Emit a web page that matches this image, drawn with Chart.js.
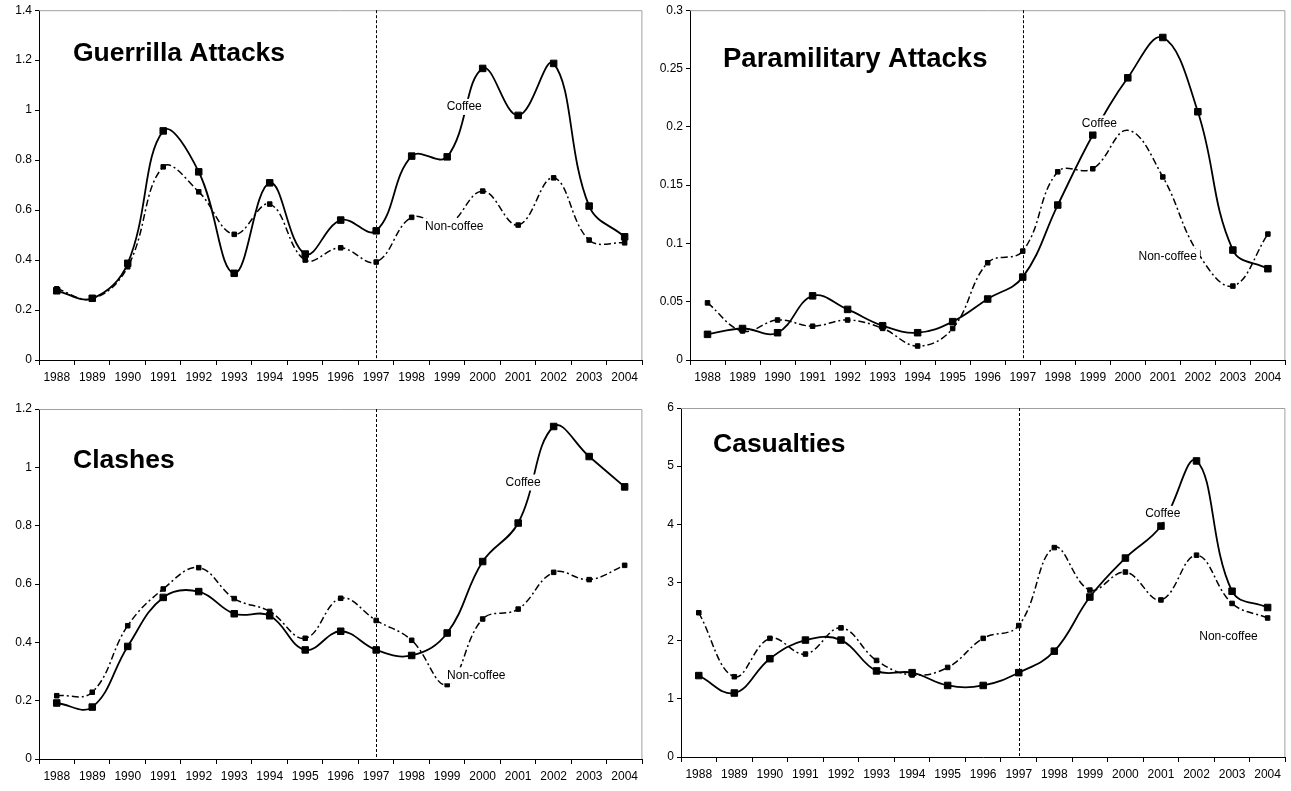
<!DOCTYPE html>
<html>
<head>
<meta charset="utf-8">
<script src="https://cdn.jsdelivr.net/npm/chart.js@4.4.1/dist/chart.umd.min.js"></script>
<style>
  body { margin: 0; background: #fff; width: 1291px; height: 791px; overflow: hidden; position: relative; }
  .panel { position: absolute; }
</style>
</head>
<body>
<div class="panel" style="left:0;top:0;width:648px;height:390px"><canvas id="c1"></canvas></div>
<div class="panel" style="left:650px;top:0;width:641px;height:390px"><canvas id="c2"></canvas></div>
<div class="panel" style="left:0;top:390px;width:648px;height:401px"><canvas id="c3"></canvas></div>
<div class="panel" style="left:650px;top:390px;width:641px;height:401px"><canvas id="c4"></canvas></div>
<script>
const years = ["1988", "1989", "1990", "1991", "1992", "1993", "1994", "1995", "1996",
  "1997", "1998", "1999", "2000", "2001", "2002", "2003", "2004"];

const guerrillaCoffee = [0.277, 0.247, 0.387, 0.917, 0.753, 0.347, 0.709, 0.424, 0.56,
  0.517, 0.816, 0.813, 1.167, 0.979, 1.187, 0.616, 0.493];
const guerrillaNonCoffee = [0.285, 0.245, 0.373, 0.773, 0.673, 0.503, 0.624, 0.40, 0.449,
  0.392, 0.571, 0.54, 0.676, 0.54, 0.729, 0.48, 0.469];
const guerrillaTicks = [0, 0.2, 0.4, 0.6, 0.8, 1, 1.2, 1.4];

const paraCoffee = [0.022, 0.027, 0.0234, 0.055, 0.0434, 0.0294, 0.0234, 0.0329, 0.0523,
  0.0711, 0.1329, 0.193, 0.242, 0.2766, 0.2129, 0.0943, 0.0783];
const paraNonCoffee = [0.049, 0.0249, 0.0343, 0.029, 0.0343, 0.0271, 0.012, 0.027, 0.0834,
  0.0934, 0.1614, 0.164, 0.197, 0.157, 0.092, 0.0634, 0.108];
const paraTicks = [0, 0.05, 0.1, 0.15, 0.2, 0.25, 0.3];

const clashCoffee = [0.192, 0.178, 0.386, 0.554, 0.574, 0.498, 0.491, 0.374, 0.438,
  0.374, 0.355, 0.432, 0.677, 0.809, 1.14, 1.037, 0.933];
const clashNonCoffee = [0.217, 0.229, 0.457, 0.583, 0.656, 0.55, 0.506, 0.414, 0.551,
  0.475, 0.407, 0.255, 0.48, 0.514, 0.64, 0.615, 0.664];
const clashTicks = [0, 0.2, 0.4, 0.6, 0.8, 1, 1.2];

const casualtyCoffee = [1.40, 1.10, 1.69, 2.01, 2.01, 1.48, 1.45, 1.23, 1.23,
  1.45, 1.82, 2.75, 3.42, 3.97, 5.09, 2.85, 2.57];
const casualtyNonCoffee = [2.48, 1.38, 2.04, 1.77, 2.22, 1.66, 1.41, 1.54, 2.04,
  2.26, 3.60, 2.87, 3.18, 2.70, 3.47, 2.64, 2.39];
const casualtyTicks = [0, 1, 2, 3, 4, 5, 6];

const breakYear = "1997";
const FONT = "'Liberation Sans', Arial, sans-serif";

// label anchors: [category index, value]
const panels = [
  { id: "c1", title: "Guerrilla Attacks", coffee: guerrillaCoffee, nonCoffee: guerrillaNonCoffee,
    ticks: guerrillaTicks, axisW: 39, axisH: 30, pad: { top: 10, right: 0 },
    titleAt: [34, 51], titleSize: 26.5, coffeeAt: [11.48, 1.013], nonAt: [11.2, 0.533], hideNon: [] },
  { id: "c2", title: "Paramilitary Attacks", coffee: paraCoffee, nonCoffee: paraNonCoffee,
    ticks: paraTicks, axisW: 40, axisH: 30, pad: { top: 10, right: 3 },
    titleAt: [33, 56.5], titleSize: 27.5, coffeeAt: [11.19, 0.2029], nonAt: [13.14, 0.0886], hideNon: [12] },
  { id: "c3", title: "Clashes", coffee: clashCoffee, nonCoffee: clashNonCoffee,
    ticks: clashTicks, axisW: 39, axisH: 32, pad: { top: 19, right: 0 },
    titleAt: [34, 59], titleSize: 26.5, coffeeAt: [13.14, 0.948], nonAt: [11.82, 0.287], hideNon: [] },
  { id: "c4", title: "Casualties", coffee: casualtyCoffee, nonCoffee: casualtyNonCoffee,
    ticks: casualtyTicks, axisW: 31, axisH: 34, pad: { top: 18, right: 5 },
    titleAt: [32, 44], titleSize: 26.5, coffeeAt: [13.05, 4.18], nonAt: [14.9, 2.07], hideNon: [] }
];

function decorations(p) {
  return {
    id: "decor",
    beforeDatasetsDraw(chart) {
      const { ctx, chartArea: a, scales } = chart;
      ctx.save();
      // grey frame top and right
      ctx.strokeStyle = "#a0a0a0";
      ctx.lineWidth = 1;
      ctx.beginPath();
      ctx.moveTo(a.left, a.top + 0.5);
      ctx.lineTo(a.right - 0.5, a.top + 0.5);
      ctx.lineTo(a.right - 0.5, a.bottom);
      ctx.stroke();
      // dotted line at 1997
      const x = Math.round(scales.x.getPixelForValue(years.indexOf(breakYear))) + 0.5;
      ctx.strokeStyle = "#000";
      ctx.setLineDash([3, 2]);
      ctx.beginPath();
      ctx.moveTo(x, a.top);
      ctx.lineTo(x, a.bottom);
      ctx.stroke();
      ctx.restore();
    },
    afterDatasetsDraw(chart) {
      const { ctx, scales } = chart;
      ctx.save();
      ctx.font = "12px " + FONT;
      ctx.textAlign = "center";
      ctx.textBaseline = "middle";
      [["Coffee", p.coffeeAt], ["Non-coffee", p.nonAt]].forEach(([txt, at]) => {
        const x = scales.x.getPixelForValue(at[0]);
        const y = scales.y.getPixelForValue(at[1]);
        const w = ctx.measureText(txt).width;
        ctx.fillStyle = "#fff";
        ctx.fillRect(x - w / 2 - 3, y - 8, w + 6, 16);
        ctx.fillStyle = "#000";
        ctx.fillText(txt, x, y);
      });
      ctx.restore();
    },
    afterDraw(chart) {
      const { ctx, chartArea: a } = chart;
      ctx.save();
      ctx.font = "bold " + p.titleSize + "px " + FONT;
      ctx.fillStyle = "#000";
      ctx.textBaseline = "alphabetic";
      ctx.fillText(p.title, a.left + p.titleAt[0], a.top + p.titleAt[1]);
      ctx.restore();
    }
  };
}

panels.forEach(p => {
  new Chart(document.getElementById(p.id), {
    type: "line",
    data: {
      labels: years,
      datasets: [
        {
          label: "Coffee",
          data: p.coffee,
          borderColor: "#000",
          borderWidth: 1.8,
          tension: 0.4,
          pointStyle: "rect",
          pointRadius: 4.6,
          pointBorderWidth: 1,
          pointBackgroundColor: "#000",
          pointBorderColor: "#000"
        },
        {
          label: "Non-coffee",
          data: p.nonCoffee,
          borderColor: "#000",
          borderWidth: 1.5,
          borderDash: [7, 3, 2, 3],
          tension: 0.4,
          pointStyle: "rect",
          pointRadius: p.nonCoffee.map((v, i) => p.hideNon.includes(i) ? 0 : 3.2),
          pointBorderWidth: 1,
          pointBackgroundColor: "#000",
          pointBorderColor: "#000"
        }
      ]
    },
    options: {
      responsive: true,
      maintainAspectRatio: false,
      animation: false,
      layout: { padding: { top: p.pad.top, right: p.pad.right, left: 0, bottom: 0 } },
      plugins: { legend: { display: false }, tooltip: { enabled: false } },
      scales: {
        x: {
          offset: true,
          afterFit: s => { s.height = p.axisH; },
          grid: { offset: true, drawOnChartArea: false, color: "#000", tickLength: 5 },
          border: { color: "#000", width: 1 },
          ticks: { color: "#000", font: { family: FONT, size: 12 }, padding: 5,
            maxRotation: 0, autoSkip: false }
        },
        y: {
          min: p.ticks[0],
          max: p.ticks[p.ticks.length - 1],
          afterFit: s => { s.width = p.axisW; },
          afterBuildTicks: s => { s.ticks = p.ticks.map(v => ({ value: v })); },
          grid: { drawOnChartArea: false, color: "#000", tickLength: 4 },
          border: { color: "#000", width: 1 },
          ticks: { color: "#000", font: { family: FONT, size: 12 }, padding: 3,
            callback: v => String(Math.round(v * 1000) / 1000) }
        }
      }
    },
    plugins: [decorations(p)]
  });
});
</script>
</body>
</html>
